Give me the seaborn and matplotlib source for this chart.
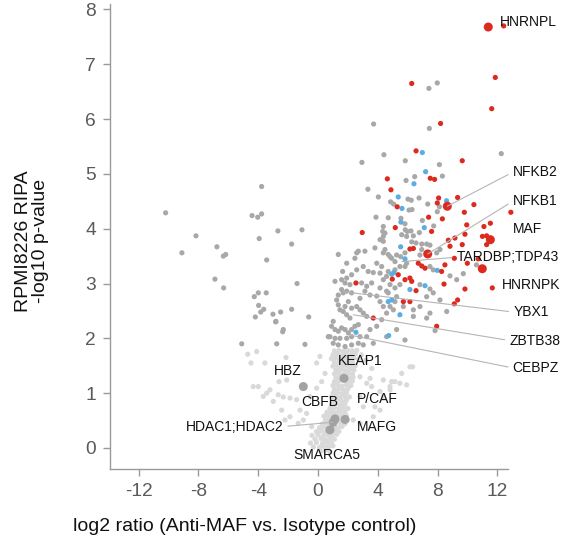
import numpy as np
import matplotlib
matplotlib.use('Agg')
import matplotlib.pyplot as plt
import seaborn as sns
import pandas as pd

# significant up (red), significant other (blue), significant not passing (dark gray), not significant (light gray)
red_pts = [(11.86, 6.76), (11.62, 6.19), (12.42, 7.70), (6.27, 6.65), (8.2, 5.92), (6.56, 5.42),
           (9.65, 5.24), (4.64, 4.91), (7.51, 4.92), (7.80, 4.90), (4.88, 4.71), (8.07, 4.56),
           (9.34, 4.57), (5.30, 4.40), (7.98, 4.47), (10.43, 4.44), (12.9, 4.30), (9.79, 4.30),
           (7.40, 4.21), (8.32, 4.18), (5.17, 4.02), (9.95, 4.07), (11.10, 4.04), (11.53, 4.10),
           (2.96, 3.93), (7.60, 3.95), (11.28, 3.87), (11.0, 3.86), (9.16, 3.83), (9.83, 3.90),
           (8.72, 3.79), (9.65, 3.71), (11.28, 3.71), (6.15, 3.63), (6.38, 3.64), (8.83, 3.68),
           (9.12, 3.46), (9.99, 3.37), (10.72, 3.45), (6.71, 3.37), (6.94, 3.32), (7.16, 3.28),
           (8.49, 3.34), (8.27, 3.22), (4.97, 3.08), (5.37, 3.16), (5.82, 3.07), (6.15, 3.10),
           (2.54, 3.01), (6.56, 2.87), (8.43, 2.99), (9.83, 2.90), (11.66, 2.92), (5.71, 2.67),
           (6.15, 2.67), (9.34, 2.70), (9.12, 2.63), (3.70, 2.37), (7.94, 2.22), (6.27, 3.04)]

blue_pts = [(6.98, 5.39), (7.20, 5.04), (6.42, 4.82), (5.37, 4.58), (8.60, 4.51), (5.62, 4.37),
            (7.11, 4.02), (5.55, 4.12), (5.53, 3.67), (5.82, 3.45), (7.98, 3.24), (5.08, 3.20),
            (6.15, 2.89), (7.16, 2.96), (4.70, 2.67), (4.93, 2.70), (5.48, 2.43), (2.54, 2.11),
            (4.93, 3.17), (4.73, 2.05)]

dark_pts = [
    # left side
    (-10.19, 4.29), (-3.77, 4.77), (-4.41, 4.24), (-4.03, 4.21), (-3.77, 4.27), (-8.16, 3.87),
    (-2.68, 3.96), (-1.07, 3.98), (-3.93, 3.82), (-1.76, 3.72), (-9.10, 3.56), (-6.76, 3.67),
    (-6.33, 3.50), (-6.17, 3.53), (-3.43, 3.43), (-6.89, 3.08), (-6.31, 2.92), (-1.40, 3.00),
    (-3.99, 2.83), (-3.46, 2.83), (-4.26, 2.76), (-3.97, 2.60), (-3.83, 2.48), (-3.63, 2.53),
    (-4.19, 2.39), (-3.01, 2.44), (-2.50, 2.48), (-1.76, 2.53), (-2.83, 2.30), (-0.62, 2.39),
    (-2.32, 2.16), (-2.81, 2.31), (-2.36, 2.12), (-5.10, 1.90), (-2.76, 1.90), (-0.87, 1.89),
    # upper right
    (7.98, 6.66), (7.42, 6.56), (3.72, 5.91), (7.45, 5.83), (4.41, 5.35), (12.26, 5.37),
    (2.94, 5.21), (5.84, 5.24), (8.12, 5.17), (8.32, 4.96), (5.89, 4.88), (6.47, 4.95),
    (3.34, 4.72), (4.04, 4.58), (4.86, 4.49), (5.06, 4.45), (6.02, 4.54), (6.24, 4.52),
    (6.76, 4.56), (6.09, 4.34), (6.29, 4.35), (7.34, 4.45), (8.12, 4.40), (7.98, 4.31),
    (3.88, 4.21), (4.70, 4.20), (6.98, 4.15), (7.74, 4.05), (4.37, 4.04), (5.55, 4.19),
    (5.82, 4.09), (5.84, 3.98), (4.33, 3.95),
    (5.98, 3.95), (6.22, 3.96), (6.78, 3.93), (4.48, 3.92), (5.6, 3.89), (5.93, 3.86),
    (6.38, 3.87), (4.15, 3.80), (4.37, 3.77), (6.27, 3.76), (6.56, 3.74), (6.94, 3.72),
    (7.27, 3.72), (7.49, 3.70), (3.81, 3.65), (3.14, 3.59), (2.59, 3.56), (4.37, 3.56),
    (4.70, 3.53), (4.93, 3.46), (5.15, 3.40), (5.82, 3.56), (5.53, 3.49), (6.94, 3.62),
    (6.82, 3.52),
    # central cluster
    (1.36, 3.53), (1.92, 3.37), (2.47, 3.46), (2.70, 3.59), (1.65, 3.22), (1.14, 3.04),
    (1.58, 3.07), (1.92, 3.10), (2.25, 3.16), (2.59, 3.25), (3.03, 3.31), (3.36, 3.22),
    (3.70, 3.20), (1.58, 2.89), (1.69, 2.83), (1.36, 2.79), (1.92, 2.86), (2.25, 2.83),
    (2.92, 3.01), (3.26, 2.95), (3.59, 3.01), (3.14, 2.86), (3.48, 2.79), (2.81, 2.73),
    (4.15, 2.92), (4.37, 3.07), (4.59, 2.86), (3.93, 2.77), (4.15, 2.67), (1.81, 3.01),
    (2.14, 2.98), (1.25, 2.70), (1.36, 2.61), (1.47, 2.52), (1.69, 2.49), (1.92, 2.43),
    (2.14, 2.37), (1.81, 2.58), (2.25, 2.55), (2.59, 2.58), (2.81, 2.52), (3.03, 2.46),
    (3.26, 2.40), (2.03, 2.67), (1.02, 2.31), (0.91, 2.22), (1.14, 2.16), (1.36, 2.13),
    (1.58, 2.19), (1.81, 2.16), (2.03, 2.10), (2.25, 2.16), (2.47, 2.22), (2.70, 2.25),
    (0.80, 2.03), (1.14, 2.00), (1.47, 2.00), (1.92, 2.00), (2.25, 2.03), (2.81, 2.03),
    (3.26, 2.03), (3.48, 2.16), (3.93, 2.22), (4.26, 2.34), (4.59, 2.46), (4.82, 2.58),
    (5.15, 2.67), (3.70, 1.91), (4.59, 2.03), (5.26, 2.16), (4.82, 2.98), (5.15, 2.92),
    (5.48, 2.98), (4.26, 3.31), (3.93, 3.37), (4.15, 3.19), (4.48, 3.62), (4.82, 3.49),
    (5.26, 3.52), (4.37, 3.86), (5.48, 3.31), (5.82, 3.31), (4.70, 3.22), (5.15, 3.25),
    (4.59, 3.13), (0.69, 2.03), (1.02, 1.91), (1.36, 1.88), (1.81, 1.85), (2.25, 1.88),
    (2.70, 1.91), (3.03, 1.88), (5.82, 1.97),
    # right of cluster
    (6.82, 2.98), (7.27, 2.76), (7.49, 2.90), (7.71, 2.83), (8.16, 3.62), (7.94, 3.56),
    (7.49, 3.31), (7.71, 3.25), (5.93, 3.37), (4.70, 2.83), (5.26, 2.76), (4.37, 2.58),
    (5.04, 2.52), (5.71, 2.58), (6.38, 2.52), (6.82, 2.58), (7.49, 2.46), (6.38, 2.40),
    (7.27, 2.37), (8.61, 2.49), (8.16, 2.70), (9.28, 3.07), (8.83, 3.14), (9.72, 3.18),
    (10.6, 3.34), (7.83, 2.14)]

light_pts = [
    (0.2, -0.06), (0.5, -0.04), (0.8, -0.07),
    (-0.3, 0.02), (0.1, 0.01), (0.4, 0.03), (0.7, 0.02), (1.0, 0.04),
    (-0.5, 0.09), (-0.1, 0.10), (0.3, 0.08), (0.6, 0.10), (0.9, 0.09),
    (-0.2, 0.16), (0.2, 0.17), (0.5, 0.15), (0.8, 0.17), (1.1, 0.16),
    (-0.4, 0.23), (0.0, 0.24), (0.35, 0.22), (0.65, 0.24), (0.95, 0.23), (1.25, 0.25),
    (-0.1, 0.30), (0.2, 0.31), (0.5, 0.29), (1.1, 0.31), (1.4, 0.30),
    (0.1, 0.37), (0.4, 0.38), (0.7, 0.36), (1.0, 0.38), (1.3, 0.37), (1.6, 0.39),
    (0.3, 0.44), (0.6, 0.45), (0.9, 0.43), (1.5, 0.45), (1.8, 0.44),
    (0.5, 0.51), (0.75, 0.52), (1.35, 0.50), (1.6, 0.58), (1.95, 0.51),
    (0.4, 0.58), (0.7, 0.59), (1.0, 0.60), (1.3, 0.58), (1.9, 0.59),
    (0.6, 0.65), (0.9, 0.66), (1.2, 0.64), (1.5, 0.66), (1.8, 0.65),
    (0.8, 0.72), (1.1, 0.73), (1.4, 0.71), (1.7, 0.73), (2.0, 0.72),
    (0.9, 0.79), (1.2, 0.80), (1.5, 0.78), (1.8, 0.80),
    (1.0, 0.86), (1.3, 0.87), (1.6, 0.85), (1.9, 0.87),
    (0.9, 0.93), (1.2, 0.94), (1.5, 0.92), (1.8, 0.94), (2.1, 0.93),
    (1.0, 1.00), (1.3, 1.01), (1.6, 0.99), (1.9, 1.01),
    (1.1, 1.07), (1.4, 1.08), (1.7, 1.06), (2.0, 1.08),
    (1.0, 1.14), (1.3, 1.15), (1.6, 1.13), (1.9, 1.15), (2.2, 1.14),
    (1.1, 1.21), (1.4, 1.22), (2.0, 1.20), (2.3, 1.22),
    (1.2, 1.28), (1.5, 1.29), (2.05, 1.28), (2.35, 1.29),
    (1.1, 1.35), (1.4, 1.36), (1.7, 1.34), (2.0, 1.36), (2.3, 1.35),
    (1.2, 1.42), (1.5, 1.43), (1.8, 1.41), (2.1, 1.43), (2.4, 1.42),
    (1.0, 1.49), (1.3, 1.50), (1.6, 1.48), (1.9, 1.50), (2.2, 1.49), (2.5, 1.50),
    (1.1, 1.56), (1.4, 1.57), (1.7, 1.55), (2.0, 1.57), (2.3, 1.56),
    (0.9, 1.63), (1.2, 1.64), (1.5, 1.62), (1.8, 1.64), (2.1, 1.63), (2.4, 1.64), (2.7, 1.62),
    (1.0, 1.70), (1.3, 1.71), (1.6, 1.69), (1.9, 1.71), (2.2, 1.70), (2.5, 1.71),
    (1.1, 1.77), (1.4, 1.78), (1.7, 1.76), (2.0, 1.78), (2.3, 1.77), (2.6, 1.78),
    # scattered
    (-4.70, 1.71), (-4.48, 1.55), (-2.14, 1.65), (-2.61, 1.21), (-2.09, 1.24), (-3.99, 1.12),
    (-3.43, 1.00), (-3.66, 0.94), (-2.99, 0.85), (-2.43, 0.69), (-2.21, 0.51), (-1.87, 0.57),
    (-4.10, 1.76), (-3.55, 1.55), (-4.33, 1.12), (-3.21, 1.06), (-2.66, 0.97), (-2.32, 0.93),
    (-1.87, 0.91), (-1.43, 0.88), (-0.54, 0.94), (-0.09, 1.09), (0.25, 1.21), (0.47, 1.36),
    (-0.09, 1.55), (0.13, 1.67), (-1.20, 0.69), (-0.76, 0.63), (-0.98, 0.51), (-1.32, 0.45),
    (-0.42, 0.39), (6.15, 1.48), (5.60, 1.36), (5.15, 1.21), (4.93, 1.21), (5.48, 1.18),
    (4.82, 1.06), (4.37, 0.94), (5.93, 1.15), (3.81, 0.75), (4.15, 0.69), (3.70, 0.57),
    (6.33, 1.48), (2.81, 1.30), (3.26, 1.18), (3.59, 1.12), (4.15, 1.03), (2.81, 0.94),
    (3.03, 0.75), (2.36, 0.51), (2.81, 0.45), (3.48, 1.27), (4.37, 1.24), (4.82, 1.12),
    (3.20, 1.60), (3.60, 1.45), (2.90, 1.70)]

# labelled proteins
label_names = ['HNRNPL', 'NFKB2', 'NFKB1', 'MAF', 'TARDBP;TDP43', 'HNRNPK', 'YBX1', 'ZBTB38',
               'CEBPZ', 'KEAP1', 'HBZ', 'CBFB', 'P/CAF', 'HDAC1;HDAC2', 'MAFG', 'SMARCA5']
label_x = [11.39, 8.65, 7.34, 11.53, 5.62, 10.99, 1.69, 2.36, 2.14, 1.74, -0.98, 1.14, 1.95, 1.02, 1.81, 0.80]
label_y = [7.68, 4.41, 3.54, 3.80, 3.40, 3.27, 2.85, 2.43, 2.06, 1.27, 1.12, 0.53, 0.58, 0.47, 0.52, 0.33]
label_grp = ['red', 'red', 'red', 'red', 'none', 'red', 'none', 'none', 'none',
             'gray', 'gray', 'gray', 'none', 'gray', 'gray', 'gray']
# text placement for each label
text_x = [12.17, 13.02, 13.02, 13.02, 9.28, 12.29, 13.06, 12.80, 13.02, 1.36, -2.94, -1.09, 2.59, -2.32, 2.59, 0.58]
text_y = [7.78, 5.03, 4.50, 4.00, 3.48, 2.98, 2.48, 1.96, 1.46, 1.58, 1.41, 0.83, 0.89, 0.39, 0.39, -0.12]
text_ha = ['left'] * 13 + ['right', 'left', 'center']
leader = [False, True, True, False, True, False, True, True, True,
          False, False, False, False, True, False, False]

colors = {'light': '#d9d9d9', 'dark': '#a8a8a8', 'blue': '#5aaee3', 'red': '#dc2a1e'}

frames = []
for grp, pts in [('light', light_pts), ('dark', dark_pts), ('blue', blue_pts), ('red', red_pts)]:
    xs, ys = zip(*pts)
    frames.append(pd.DataFrame({'log2': xs, 'nlogp': ys, 'group': grp}))
df = pd.concat(frames, ignore_index=True)

sns.set_style('white')
plt.rcParams['font.family'] = ['Liberation Sans', 'DejaVu Sans']
plt.rcParams['axes.unicode_minus'] = False

fig = plt.figure(figsize=(5.79, 5.44), dpi=100)
ax = fig.add_axes([110 / 579, 75 / 544, 398 / 579, 465 / 544])

sns.scatterplot(data=df, x='log2', y='nlogp', hue='group', palette=colors,
                s=14, linewidth=0, legend=False, ax=ax, clip_on=False, zorder=2)

lab = pd.DataFrame({'name': label_names, 'log2': label_x, 'nlogp': label_y, 'group': label_grp})
big = lab[lab['group'] != 'none']
sns.scatterplot(data=big, x='log2', y='nlogp', hue='group',
                palette={'red': '#dc2a1e', 'gray': '#a2a2a2'},
                s=42, linewidth=0, legend=False, ax=ax, clip_on=False, zorder=3)

for i, name in enumerate(label_names):
    if leader[i]:
        rel = (1, 0.5) if text_ha[i] == 'right' else (0, 0.5)
        ax.annotate(name, xy=(label_x[i], label_y[i]), xytext=(text_x[i], text_y[i]),
                    ha=text_ha[i], va='center', fontsize=10, color='#111111',
                    annotation_clip=False, zorder=4,
                    arrowprops=dict(arrowstyle='-', color='#b5b5b5', lw=0.8,
                                    shrinkA=1, shrinkB=0, relpos=rel))
    else:
        ax.text(text_x[i], text_y[i], name, ha=text_ha[i], va='center', fontsize=10,
                color='#111111', zorder=4, clip_on=False)

ax.set_xlim(-13.91, 12.71)
ax.set_ylim(-0.384, 8.10)
ax.set_xticks([-12, -8, -4, 0, 4, 8, 12])
ax.set_yticks(range(0, 9))
ax.tick_params(axis='both', direction='out', length=5, width=1, color='#9a9a9a',
               labelsize=13.8, labelcolor='#5a5a5a', pad=5, left=True, bottom=True)
for side in ['top', 'right']:
    ax.spines[side].set_visible(False)
for side in ['left', 'bottom']:
    ax.spines[side].set_color('#9a9a9a')
    ax.spines[side].set_linewidth(1)

ax.set_xlabel('log2 ratio (Anti-MAF vs. Isotype control)', fontsize=14, color='#111111')
ax.xaxis.label.set_va('center')
ax.xaxis.set_label_coords((245 - 110) / 398, -(526.7 - 469) / 465)
ax.set_ylabel('RPMI8226 RIPA\n-log10 p-value', fontsize=14, color='#111111', linespacing=1.05)
ax.yaxis.label.set_va('center')
ax.yaxis.set_label_coords((32 - 110) / 398, (469 - 241) / 465)

fig.savefig('out.png', dpi=100)
